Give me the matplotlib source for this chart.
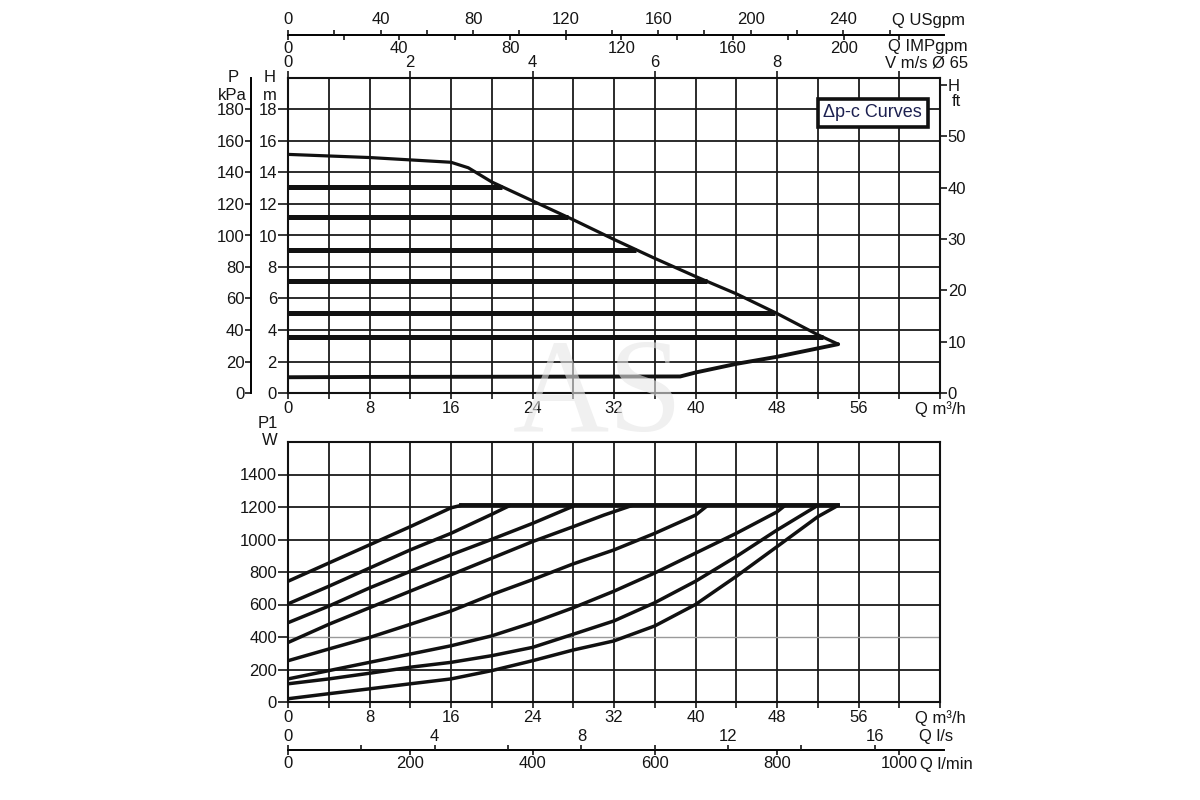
import numpy as np
import matplotlib.pyplot as plt

plt.rcParams['font.family'] = ['Liberation Sans', 'DejaVu Sans']
plt.rcParams['font.size'] = 12
plt.rcParams['text.color'] = '#151515'
plt.rcParams['xtick.color'] = '#151515'
plt.rcParams['ytick.color'] = '#151515'

# unit conversions as drawn on the sheet (base: Q in m3/h, H in m)
USGPM_PER_M3H = 4.403
IMPGPM_PER_M3H = 3.666
LS_PER_M3H = 1 / 3.6
LMIN_PER_M3H = 1000 / 60
V_PER_M3H = 1 / 6          # V m/s, DN65
KPA_PER_M = 10
FT_PER_M = 3.07

# head envelope: max speed curve down to the corner, then back along min curve
q_top = [0, 8, 16, 17.7, 20, 24, 28, 32, 36, 40, 44, 48, 52, 54]
h_top = [15.15, 14.95, 14.65, 14.3, 13.4, 12.2, 11.0, 9.75, 8.55, 7.4, 6.3, 5.05, 3.7, 3.1]
q_bot = [54, 48, 44, 40, 38.5, 8, 0]
h_bot = [3.1, 2.3, 1.85, 1.3, 1.05, 1.02, 1.0]

# constant pressure set points (m)
dpc_levels = [13.1, 11.15, 9.1, 7.1, 5.1, 3.55]

# input power P1 (W) for each set point
p1_q = [
    [0, 4, 8, 12, 16, 17],
    [0, 4, 8, 12, 16, 20, 21.8],
    [0, 4, 8, 12, 16, 20, 24, 28],
    [0, 4, 8, 12, 16, 20, 24, 28, 31, 33.8],
    [0, 4, 8, 12, 16, 20, 24, 28, 32, 36, 40, 41.2],
    [0, 4, 8, 12, 16, 20, 24, 28, 32, 36, 40, 44, 48, 48.8],
    [0, 4, 8, 12, 16, 20, 24, 28, 32, 36, 40, 44, 48, 52],
    [0, 4, 8, 12, 16, 20, 24, 28, 32, 36, 40, 44, 48, 52, 54],
]
p1_w = [
    [743, 855, 967, 1079, 1195, 1210],
    [604, 712, 824, 936, 1038, 1155, 1210],
    [488, 590, 702, 804, 906, 1001, 1099, 1205],
    [366, 478, 580, 682, 783, 885, 987, 1079, 1150, 1210],
    [254, 326, 397, 478, 560, 661, 753, 850, 936, 1038, 1150, 1210],
    [142, 193, 244, 295, 346, 407, 488, 580, 682, 794, 916, 1038, 1170, 1210],
    [112, 142, 177, 214, 244, 285, 336, 417, 499, 611, 743, 895, 1058, 1210],
    [20, 51, 81, 112, 142, 193, 254, 320, 376, 468, 600, 773, 956, 1140, 1210],
]
p1_max = 1210

q_ticks = np.arange(0, 65, 4)
h_ticks = np.arange(0, 19, 2)
p1_ticks = np.arange(0, 1401, 200)
kpa_ticks = np.arange(0, 181, 20)
ft_ticks = np.arange(0, 61, 10)
v_ticks = [0, 2, 4, 6, 8, 10]
usgpm_major = np.arange(0, 241, 40)
usgpm_minor = np.arange(0, 261, 20)
impgpm_major = np.arange(0, 201, 40)
impgpm_minor = np.arange(0, 221, 20)
ls_major = np.arange(0, 17, 4)
ls_minor = np.arange(0, 17, 2)
lmin_major = np.arange(0, 1001, 200)

FW, FH = 1200, 800
INK = '#151515'


def px(x, y):
    return x / FW, 1 - y / FH


fig = plt.figure(figsize=(12, 8), dpi=100)
L, W = 288 / FW, 652 / FW
ax = fig.add_axes([L, 1 - 393 / FH, W, 315 / FH])
ax2 = fig.add_axes([L, 1 - 702 / FH, W, 260 / FH])

q_lab = [('' if q % 8 else str(q)) for q in q_ticks]
q_lab[-1] = 'Q m\u00b3/h'
for a in (ax, ax2):
    a.set_xlim(0, 64)
    a.set_xticks(q_ticks, q_lab)
    a.tick_params(direction='out', length=4, width=1.2, pad=2, colors=INK)
    a.grid(True, color='#1a1a1a', lw=1.3)
    a.set_axisbelow(True)
    for s in a.spines.values():
        s.set_linewidth(1.5)
        s.set_color('#111')

# ---- head chart
ax.set_ylim(0, 20)
ax.set_yticks(h_ticks)
ax.tick_params(axis='y', length=7, pad=1)

ax.plot(q_top, h_top, color='#111', lw=2.3, solid_capstyle='round', zorder=4)
ax.plot(q_bot, h_bot, color='#111', lw=2.8, solid_capstyle='round', zorder=4)
for h in dpc_levels:
    q_end = np.interp(h, h_top[::-1], q_top[::-1])
    ax.plot([0, q_end], [h, h], color='#111', lw=3.6, solid_capstyle='butt', zorder=3)

ax.text(0.897, 0.889, '\u0394p-c Curves', transform=ax.transAxes, fontsize=13,
        color='#1c2050', ha='center', va='center', zorder=6,
        bbox=dict(boxstyle='square,pad=0.32', fc='white', ec='#111', lw=2.6))

# pressure axis (kPa) offset to the left
axp = ax.twinx()
axp.set_ylim(0, 20 * KPA_PER_M)
axp.yaxis.set_ticks_position('left')
axp.spines['left'].set_position(('outward', 26.6))
axp.spines['left'].set_linewidth(1.4)
for s in ('right', 'top', 'bottom'):
    axp.spines[s].set_visible(False)
axp.set_yticks(kpa_ticks)
axp.tick_params(axis='y', direction='out', length=4.3, width=1.2, pad=0.5)

# head in feet on the right (top tick carries the axis name)
axf = ax.twinx()
axf.set_ylim(0, 20 * FT_PER_M)
for s in axf.spines.values():
    s.set_visible(False)
axf.set_yticks(ft_ticks, [str(t) for t in ft_ticks[:-1]] + ['H'])
axf.tick_params(axis='y', direction='out', length=5, width=1.2, pad=0.5)

# velocity on the top spine
axv = ax.secondary_xaxis('top', functions=(lambda q: q * V_PER_M3H, lambda v: v / V_PER_M3H))
axv.set_xticks(v_ticks, [str(v) for v in v_ticks[:-1]] + [''])
axv.tick_params(direction='out', length=5, width=1.2, pad=1)
axv.spines['top'].set_visible(False)

fig.text(*px(233, 78), 'P', ha='center', va='center')
fig.text(*px(232, 95), 'kPa', ha='center', va='center')
fig.text(*px(270, 78), 'H', ha='center', va='center')
fig.text(*px(270, 95), 'm', ha='center', va='center')
fig.text(*px(956, 102), 'ft', ha='center', va='center')
fig.text(*px(968, 63), 'V m/s \u00d8 65', ha='right', va='center')

# ---- power chart
ax2.set_ylim(0, 1600)
ax2.set_yticks(p1_ticks)
ax2.tick_params(axis='y', length=7, pad=1)
ax2.get_ygridlines()[2].set_color('#9a9a9a')
ax2.get_ygridlines()[2].set_linewidth(1.0)

for qs, ws in zip(p1_q, p1_w):
    ax2.plot(qs, ws, color='#111', lw=2.5, solid_capstyle='round',
             solid_joinstyle='round', zorder=4)
ends = [qs[-1] for qs in p1_q]
ax2.plot([min(ends), max(ends)], [p1_max, p1_max], color='#111', lw=2.8, zorder=4)

fig.text(*px(268, 423), 'P1', ha='center', va='center')
fig.text(*px(270, 440), 'W', ha='center', va='center')


# ---- extra flow scales drawn as single lines
def unit_line(y_px, q_end, pad_up, pad_down):
    a = fig.add_axes([L, 1 - y_px / FH, W * q_end / 64, 0.0001])
    a.set_xlim(0, q_end)
    a.set_yticks([])
    a.patch.set_visible(False)
    for s in ('top', 'left', 'right'):
        a.spines[s].set_visible(False)
    a.spines['bottom'].set_linewidth(1.4)
    t = a.twiny()
    t.set_xlim(0, q_end)
    t.set_yticks([])
    t.patch.set_visible(False)
    for s in t.spines.values():
        s.set_visible(False)
    for b, p in ((a, pad_down), (t, pad_up)):
        b.tick_params(axis='x', which='both', direction='out', length=3.6, width=1.2, pad=p)
    return a, t


q_line_end = 656 / 652 * 64
low, up = unit_line(35, q_line_end, 2.2, 0.5)
up.set_xticks(usgpm_major / USGPM_PER_M3H, [str(v) for v in usgpm_major])
up.set_xticks(usgpm_minor / USGPM_PER_M3H, minor=True)
low.set_xticks(impgpm_major / IMPGPM_PER_M3H, [str(v) for v in impgpm_major])
low.set_xticks(impgpm_minor / IMPGPM_PER_M3H, minor=True)
fig.text(*px(965, 20), 'Q USgpm', ha='right', va='center')
fig.text(*px(968, 47), 'Q IMPgpm', ha='right', va='center')

low, up = unit_line(750, q_line_end, 0.5, 0.5)
up.set_xticks(ls_major / LS_PER_M3H, [str(v) for v in ls_major])
up.set_xticks(ls_minor / LS_PER_M3H, minor=True)
low.set_xticks(lmin_major / LMIN_PER_M3H, [str(v) for v in lmin_major])
fig.text(*px(953, 737), 'Q l/s', ha='right', va='center')
fig.text(*px(920, 764), 'Q l/min', ha='left', va='center')

# watermark
fig.text(*px(598, 398), 'AS', fontsize=96, family='Liberation Serif',
         color='#e6e6e6', alpha=0.6, ha='center', va='center')

fig.savefig('out.png', dpi=100)
